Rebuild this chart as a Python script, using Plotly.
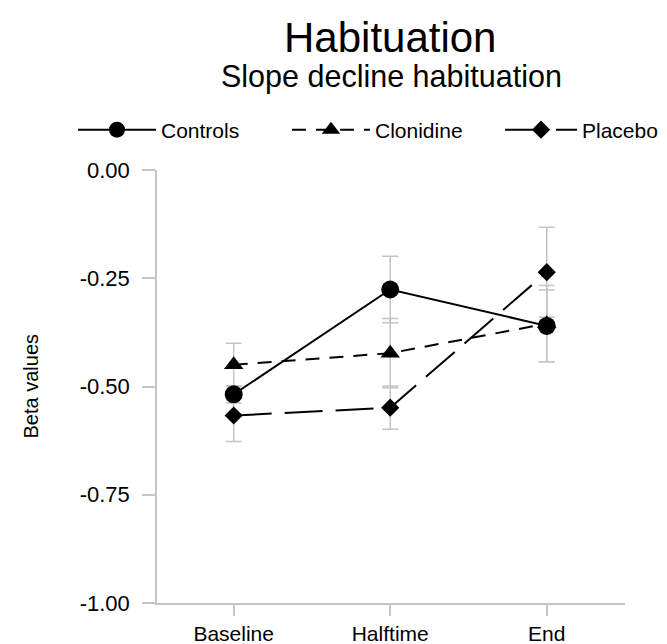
import plotly.graph_objects as go

categories = ["Baseline", "Halftime", "End"]
series_names = ["Controls", "Clonidine", "Placebo"]
controls = [-0.518, -0.276, -0.360]
clonidine = [-0.450, -0.423, -0.355]
placebo = [-0.567, -0.549, -0.236]
controls_err = [0.02, 0.077, 0.083]
clonidine_err = [0.05, 0.08, 0.088]
placebo_err = [0.06, 0.05, 0.104]
y_tickvals = [0.0, -0.25, -0.5, -0.75, -1.0]
y_ticktext = ["0.00", "-0.25", "-0.50", "-0.75", "-1.00"]

values = [controls, clonidine, placebo]
errors = [controls_err, clonidine_err, placebo_err]
symbols = ["circle", "triangle-up", "diamond"]
sizes = [18, 17, 14]
dashes = ["solid", "14px,10px", "38px,13px"]
legend_ids = ["legend", "legend2", "legend3"]

W, H = 667, 644
OFF = 8  # page body offset of the rendered figure
legend_x_px = [65, 279, 492]
legend_item_w = [78, 78, 72]
legend_y_px = 122
FONT = "Arial, Liberation Sans, sans-serif"
GRAY = "#c4c4c4"

fig = go.Figure()

# error bars first (behind everything)
for name, v, e in zip(series_names, values, errors):
    fig.add_trace(go.Scatter(
        x=categories, y=v, mode="markers",
        marker=dict(size=1, color="rgba(0,0,0,0)"),
        error_y=dict(type="data", array=e, visible=True, color=GRAY,
                     thickness=1.5, width=8),
        showlegend=False, hoverinfo="skip"))

for name, v, sym, sz, d, lg in zip(series_names, values, symbols, sizes, dashes, legend_ids):
    fig.add_trace(go.Scatter(
        x=categories, y=v, mode="lines+markers", name=name, legend=lg,
        line=dict(color="black", width=2, dash=d),
        marker=dict(symbol=sym, size=sz, color="black")))

legend_common = dict(orientation="h", xref="container", yref="container",
                     xanchor="left", yanchor="middle",
                     font=dict(size=21, family=FONT, color="black"),
                     bgcolor="rgba(0,0,0,0)")
legends = {}
for lg, px, iw in zip(legend_ids, legend_x_px, legend_item_w):
    legends[lg] = dict(legend_common, x=px / W, y=1 - legend_y_px / H, itemwidth=iw)

L, T, PW, PH = 157 - OFF, 170 - OFF, 468, 433
fig.update_layout(
    width=W, height=H,
    margin=dict(l=L, r=W - L - PW, t=T, b=H - T - PH, autoexpand=False),
    paper_bgcolor="white", plot_bgcolor="white",
    font=dict(family=FONT, color="black", size=21),
    showlegend=True,
    annotations=[
        dict(text="Habituation", xref="paper", yref="paper", x=0.498, y=1.305,
             xanchor="center", yanchor="middle", showarrow=False,
             font=dict(size=42, family=FONT, color="black")),
        dict(text="Slope decline habituation", xref="paper", yref="paper", x=0.5, y=1.215,
             xanchor="center", yanchor="middle", showarrow=False,
             font=dict(size=30.5, family=FONT, color="black")),
        dict(text="Beta values", xref="paper", yref="paper", x=(30 - 157) / 468, y=0.5,
             xanchor="center", yanchor="middle", showarrow=False, textangle=-90,
             font=dict(size=20, family=FONT, color="black")),
    ],
    **legends,
)

fig.update_xaxes(
    type="category", range=[-0.49, 2.5], automargin=False,
    showline=True, linecolor=GRAY, linewidth=1.5,
    ticks="outside", ticklen=11, tickcolor=GRAY, tickwidth=1.5,
    showgrid=False, zeroline=False,
    tickfont=dict(size=21, family=FONT, color="black"),
    ticklabelstandoff=0,
)
fig.update_yaxes(
    range=[-1.0, 0.0], tickvals=y_tickvals, ticktext=y_ticktext, automargin=False,
    showline=True, linecolor=GRAY, linewidth=1.5,
    ticks="outside", ticklen=13, tickcolor=GRAY, tickwidth=1.5,
    showgrid=False, zeroline=False,
    tickfont=dict(size=22, family=FONT, color="black"),
    ticklabelstandoff=8,
)

fig.write_html("out.html")
